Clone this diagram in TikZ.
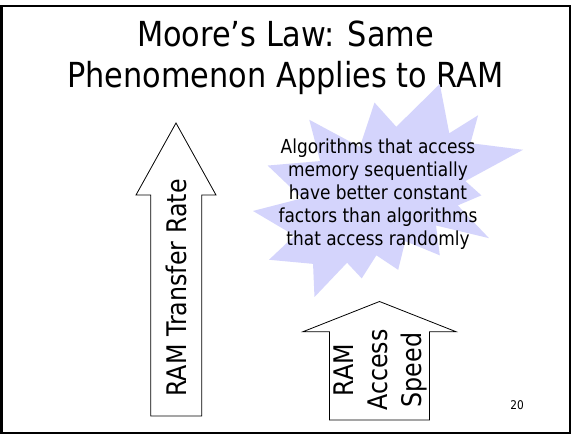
\documentclass[tikz,border=0pt]{standalone}
\usepackage{fontspec}
\setmainfont[FakeStretch=0.88]{DejaVu Sans}
\definecolor{burstfill}{RGB}{212,212,252}
\begin{document}
\begin{tikzpicture}[x=1pt,y=-1pt,
  titletext/.style={inner sep=0pt,anchor=base,font=\fontsize{34.5}{41}\selectfont},
  bursttext/.style={inner sep=0pt,anchor=base,font=\fontsize{19.3}{23}\selectfont},
  arrowtext/.style={inner sep=0pt,anchor=base,rotate=90,font=\fontsize{27}{32}\selectfont},
  arrowshape/.style={draw=black,fill=white,line width=0.8pt,line join=miter},
  frame/.style={draw=black,line width=2.5pt}]
\useasboundingbox (0,0) rectangle (571,435);
\fill[white] (0,0) rectangle (571,435);
% frame
\draw[frame] (1.25,6) rectangle (569.75,433.25);
% title
\node[titletext] (title1) at (285.5,47) {Moore’s Law: Same};
\node[titletext] (title2) at (285.5,88) {Phenomenon Applies to RAM};
% starburst
\begin{scope}[shift={(253,84)},x=1.25pt,y=-0.98611pt]
\fill[burstfill] (114.64,43.40) -- (97.22,18.87) -- (85.48,63.83) -- (45.03,36.26)
 -- (53.73,78.16) -- (11.74,82.70) -- (39.34,115.92) -- (0,128.75)
 -- (33.29,153.72) -- (12.83,178.24) -- (48.04,182.39) -- (49.18,216)
 -- (75.25,181.25) -- (86.98,197.12) -- (98.71,173.71) -- (116.14,188.44)
 -- (121.78,159.37) -- (149.43,173.71) -- (146.40,143.48) -- (188.78,156.32)
 -- (163.82,123.11) -- (182.70,112.92) -- (169.86,98.43) -- (216,66.71)
 -- (174,60) -- (180.07,31.72) -- (157,50) -- (149.43,0) -- cycle;
\end{scope}
\foreach \t [count=\i] in {Algorithms that access,memory sequentially,have better constant,factors than algorithms,that access randomly}
  \node[bursttext] (b\i) at (378,{154+23*(\i-1)}) {\t};
% big arrow
\draw[arrowshape] (176,123) -- (216,195) -- (201.7,195) -- (201.7,416)
  -- (150.7,416) -- (150.7,195) -- (136,195) -- cycle;
\node[arrowtext] (rate) at (186,288) {RAM Transfer Rate};
% small arrow
\draw[arrowshape] (379.5,301.5) -- (456,331.7) -- (429.5,331.7) -- (429.5,420)
  -- (329.5,420) -- (329.5,331.7) -- (303,331.7) -- cycle;
\node[arrowtext] (s1) at (353,370) {RAM};
\node[arrowtext] (s2) at (387,370) {Access};
\node[arrowtext] (s3) at (421,370) {Speed};
% page number
\node[inner sep=0pt,anchor=base,font=\fontsize{12}{14}\selectfont] (pg) at (517,410) {20};
\end{tikzpicture}
\end{document}
